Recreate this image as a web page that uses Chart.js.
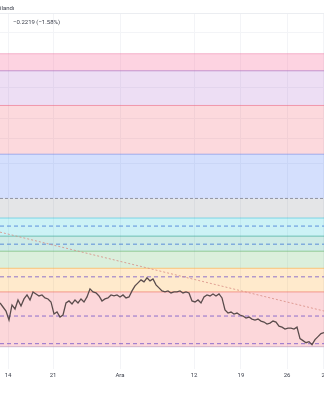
<!DOCTYPE html>
<html>
<head>
<meta charset="utf-8">
<script src="https://cdn.jsdelivr.net/npm/chart.js@4/dist/chart.umd.min.js"></script>
<style>
    html, body {
        margin: 0;
        padding: 0;
        width: 324px;
        height: 400px;
        overflow: hidden;
        background: #fff;
        font-family: Roboto, "Liberation Sans", sans-serif;
    }
    #wrap {
        position: absolute;
        left: -20px;
        top: 0;
        width: 364px;
        height: 400px;
    }
    .hdr {
        position: absolute;
        font-size: 6px;
        color: #3a3e4a;
        white-space: nowrap;
    }
    .rule {
        position: absolute;
        left: 0;
        width: 324px;
        height: 1px;
        background: #ebedf1;
    }
</style>
</head>
<body>
<div id="wrap"><canvas id="fib-chart"></canvas></div>
<div class="rule" style="top:13px"></div>
<div class="hdr" style="left:0;top:4px">ilandı</div>
<div class="hdr" style="left:13px;top:18px">−0.2219 (−1.58%)</div>
<script>
// price, one value per bar slot (3px each in the original)
const prices = [
    14.47, 14.39, 14.31, 14.13, 14.43, 14.35, 14.53, 14.41, 14.55, 14.63,
    14.53, 14.69, 14.65, 14.61, 14.63, 14.57, 14.55, 14.49, 14.25, 14.29,
    14.19, 14.23, 14.47, 14.51, 14.45, 14.53, 14.47, 14.55, 14.49, 14.59,
    14.75, 14.69, 14.67, 14.61, 14.51, 14.55, 14.57, 14.63, 14.61, 14.63,
    14.59, 14.63, 14.57, 14.59, 14.71, 14.81, 14.87, 14.93, 14.89, 14.97,
    14.91, 14.95, 14.83, 14.77, 14.71, 14.69, 14.71, 14.67, 14.69, 14.69,
    14.71, 14.67, 14.69, 14.67, 14.51, 14.49, 14.53, 14.47, 14.59, 14.63,
    14.61, 14.65, 14.61, 14.65, 14.57, 14.33, 14.27, 14.29, 14.25, 14.27,
    14.23, 14.21, 14.17, 14.19, 14.15, 14.13, 14.15, 14.11, 14.09, 14.05,
    14.07, 14.11, 14.09, 14.01, 13.99, 13.95, 13.97, 13.97, 13.95, 13.99,
    13.76, 13.72, 13.68, 13.70, 13.64, 13.74, 13.80, 13.86, 13.88
];

// fib levels, top to bottom
const fibLevels = [19.43, 19.09, 18.40, 17.43, 16.55, 16.16, 15.80, 15.50, 15.16, 14.69, 13.60];
const fibLineColors = [
    'rgba(236,120,165,0.5)', 'rgba(170,110,190,0.65)', 'rgba(236,110,135,0.65)', 'rgba(120,145,235,0.65)',
    'rgba(120,123,134,0.75)', 'rgba(60,195,220,0.6)', 'rgba(40,160,140,0.6)', 'rgba(100,180,100,0.6)',
    'rgba(255,170,60,0.6)', 'rgba(236,110,100,0.65)', 'rgba(190,160,190,0.7)'
];
// fill of the band above each level (first level has none)
const fibFills = [
    null, 'rgba(248,120,165,0.33)', 'rgba(175,105,205,0.22)', 'rgba(242,80,100,0.22)', 'rgba(60,110,245,0.22)',
    'rgba(120,123,134,0.2)', 'rgba(0,188,212,0.2)', 'rgba(8,153,129,0.2)', 'rgba(76,175,80,0.2)',
    'rgba(255,152,0,0.2)', 'rgba(242,54,69,0.2)'
];
const dashedBlue = [16.00, 15.64];
const dashedPurple = [14.99, 14.21, 13.66];
const trendLine = [15.88, 14.31];

const dateTicks = [2.67, 17.7, 40, 64.7, 80.3, 95.7, 107.7];
const dateLabels = ['14', '21', 'Ara', '12', '19', '26', '2'];
const priceGrid = [19.85, 18.75, 18.14, 17.74, 17.25];

const X_MAX = 108;

function flat(value) {
    return [{x: 0, y: value}, {x: X_MAX, y: value}];
}

let datasets = [];

fibLevels.forEach((level, i) => {
    datasets.push({
        data: flat(level),
        borderColor: fibLineColors[i],
        borderWidth: 1,
        borderDash: i === 4 ? [3, 2] : [],
        backgroundColor: fibFills[i] || 'transparent',
        fill: i === 0 ? false : '-1',
        order: 5,
    });
});

dashedBlue.forEach((v) => {
    datasets.push({data: flat(v), borderColor: 'rgba(70,125,215,0.85)', borderWidth: 1, borderDash: [4, 3], fill: false, order: 3});
});
dashedPurple.forEach((v) => {
    datasets.push({data: flat(v), borderColor: 'rgba(115,85,200,0.8)', borderWidth: 1, borderDash: [4, 3], fill: false, order: 3});
});

datasets.push({
    data: [{x: 0, y: trendLine[0]}, {x: X_MAX, y: trendLine[1]}],
    borderColor: 'rgba(215,140,130,0.8)',
    borderWidth: 1,
    borderDash: [2, 2],
    fill: false,
    order: 2,
});

datasets.push({
    data: prices.map((p, i) => ({x: i, y: p})),
    borderColor: '#5a4c4c',
    borderWidth: 1.3,
    fill: false,
    order: 1,
});

new Chart(document.querySelector('#fib-chart'), {
    type: 'line',
    data: {datasets: datasets},
    options: {
        responsive: true,
        maintainAspectRatio: false,
        animation: false,
        layout: {padding: {left: 20, right: 20, top: 13, bottom: 18}},
        elements: {point: {radius: 0}, line: {tension: 0}},
        plugins: {legend: {display: false}, tooltip: {enabled: false}},
        scales: {
            x: {
                type: 'linear',
                min: 0,
                max: X_MAX,
                afterBuildTicks: (scale) => {
                    scale.ticks = dateTicks.map((v) => ({value: v}));
                },
                ticks: {
                    autoSkip: false,
                    maxRotation: 0,
                    padding: 3,
                    color: '#3a3e4a',
                    font: {family: 'Roboto', size: 6},
                    callback: (value, index) => dateLabels[index],
                },
                grid: {color: '#f3f4f7', drawTicks: false},
                border: {display: false},
            },
            y: {
                min: 13.16,
                max: 20.24,
                afterBuildTicks: (scale) => {
                    scale.ticks = priceGrid.map((v) => ({value: v}));
                },
                ticks: {display: false},
                grid: {color: '#f3f4f7', drawTicks: false},
                border: {display: false},
            },
        },
    },
});
</script>
</body>
</html>
